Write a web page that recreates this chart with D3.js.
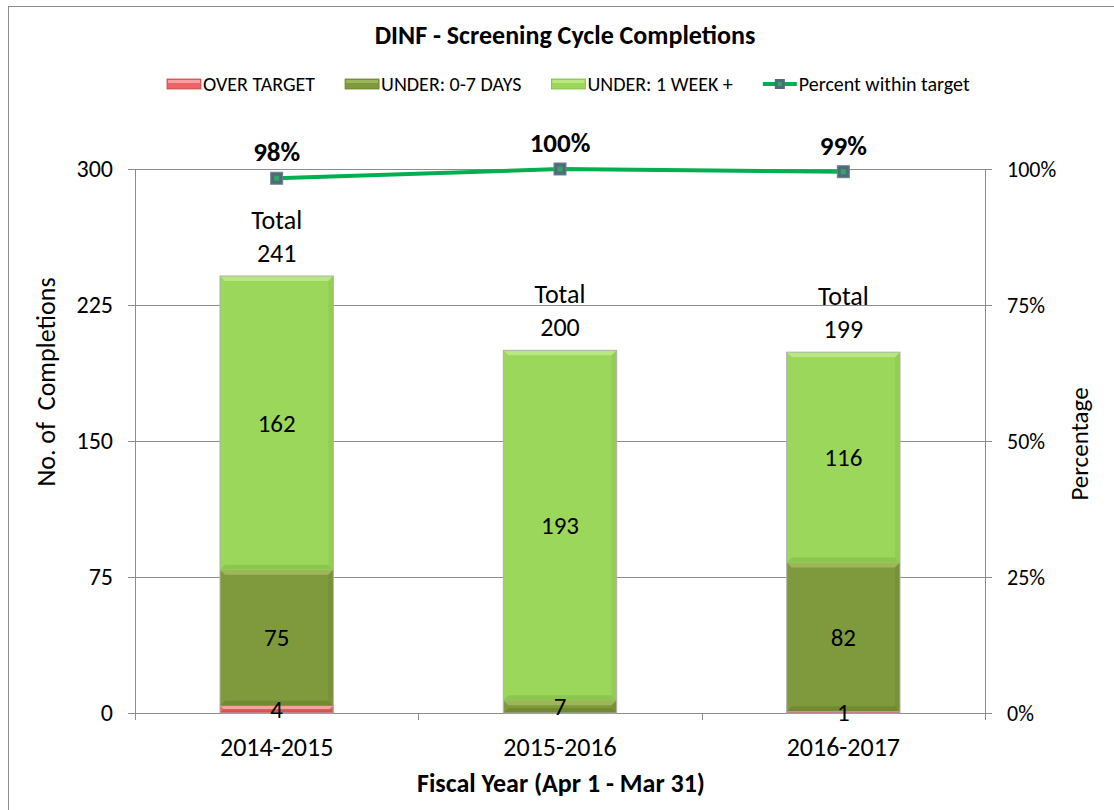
<!DOCTYPE html>
<html>
<head>
<meta charset="utf-8">
<script src="https://cdn.jsdelivr.net/npm/d3@7"></script>
<style>
  body { margin: 0; background: #fff; }
  text { font-family: Carlito, "Liberation Sans", Arial, sans-serif; fill: #000; }
</style>
</head>
<body>
<script>
// ---------------- DATA ----------------
var years = ['2014-2015', '2015-2016', '2016-2017']
var overTarget = [4, 0, 1]
var under07 = [75, 7, 82]
var under1wk = [162, 193, 116]
var percentWithin = [0.983, 1.0, 0.995]
var percentLabels = ['98%', '100%', '99%']
var leftTicks = [0, 75, 150, 225, 300]
var rightTicks = [0, 0.25, 0.5, 0.75, 1]
var seriesNames = ['OVER TARGET', 'UNDER: 0-7 DAYS', 'UNDER: 1 WEEK +', 'Percent within target']

// ---------------- SVG ----------------
var width = 1114, height = 810
var svg = d3.select('body').append('svg')
  .attr('width', width).attr('height', height)

svg.append('rect')
  .attr('x', 8.5).attr('y', 6.5)
  .attr('width', 1200).attr('height', 1000)
  .attr('fill', 'none').attr('stroke', '#8c8c8c')

var plot = { left: 135, right: 985, top: 169, bottom: 713 }

var x = d3.scaleBand().domain(years)
  .range([plot.left, plot.right])
  .paddingInner(0.6).paddingOuter(0.3)
var y = d3.scaleLinear().domain([0, 300]).range([plot.bottom, plot.top])
var yP = d3.scaleLinear().domain([0, 1]).range([plot.bottom, plot.top])

var colors = {
  over: { fill: '#ee6464', light: '#f7a0a0', dark: '#c84848' },
  u07: { fill: '#7f9a3d', light: '#9db65a', dark: '#67802c' },
  u1w: { fill: '#9bd75a', light: '#b9e882', dark: '#80bc44' }
}

// ---------------- GRID + AXES ----------------
svg.append('g')
  .selectAll('line').data(leftTicks).enter().append('line')
  .attr('x1', plot.left - 7).attr('x2', plot.right + 7)
  .attr('y1', function(d){ return Math.round(y(d)) + 0.5 })
  .attr('y2', function(d){ return Math.round(y(d)) + 0.5 })
  .attr('stroke', '#8c8c8c').attr('stroke-width', 1)

svg.append('line')
  .attr('x1', plot.left + 0.5).attr('x2', plot.left + 0.5)
  .attr('y1', plot.top).attr('y2', plot.bottom + 7)
  .attr('stroke', '#8c8c8c')
svg.append('line')
  .attr('x1', plot.right + 0.5).attr('x2', plot.right + 0.5)
  .attr('y1', plot.top).attr('y2', plot.bottom + 7)
  .attr('stroke', '#8c8c8c')

// category boundary ticks
var step = x.step()
svg.append('g').selectAll('line').data(d3.range(years.length + 1)).enter().append('line')
  .attr('x1', function(i){ return Math.round(plot.left + i * step) + 0.5 })
  .attr('x2', function(i){ return Math.round(plot.left + i * step) + 0.5 })
  .attr('y1', plot.bottom).attr('y2', plot.bottom + 7)
  .attr('stroke', '#8c8c8c')

svg.append('g').selectAll('text').data(leftTicks).enter().append('text')
  .attr('x', 113).attr('y', function(d){ return y(d) })
  .attr('dy', '0.35em').attr('text-anchor', 'end')
  .style('font-size', '24px')
  .text(function(d){ return d })

svg.append('g').selectAll('text').data(rightTicks).enter().append('text')
  .attr('x', 1007).attr('y', function(d){ return yP(d) })
  .attr('dy', '0.35em')
  .style('font-size', '22px')
  .text(d3.format('.0%'))

svg.append('g').selectAll('text').data(years).enter().append('text')
  .attr('x', function(d){ return x(d) + x.bandwidth() / 2 })
  .attr('y', 756).attr('text-anchor', 'middle')
  .style('font-size', '26px')
  .text(function(d){ return d })

// axis titles
svg.append('text')
  .attr('transform', 'translate(55,' + 382 + ') rotate(-90)')
  .attr('text-anchor', 'middle').style('font-size', '26px')
  .attr('xml:space', 'preserve')
  .text('No. of  Completions')
svg.append('text')
  .attr('transform', 'translate(1088,' + 444 + ') rotate(-90)')
  .attr('text-anchor', 'middle').style('font-size', '25px')
  .text('Percentage')
svg.append('text')
  .attr('x', 561).attr('y', 792).attr('text-anchor', 'middle')
  .style('font-size', '26px').style('font-weight', 'bold')
  .text('Fiscal Year (Apr 1 - Mar 31)')

// title
svg.append('text')
  .attr('x', 565).attr('y', 44).attr('text-anchor', 'middle')
  .style('font-size', '26px').style('font-weight', 'bold')
  .text('DINF - Screening Cycle Completions')

// ---------------- BARS ----------------
var stacked = years.map(function(yr, i){
  var a = overTarget[i], b = under07[i], c = under1wk[i]
  return { year: yr, total: a + b + c, segs: [
    { key: 'over', v: a, y0: 0, y1: a },
    { key: 'u07', v: b, y0: a, y1: a + b },
    { key: 'u1w', v: c, y0: a + b, y1: a + b + c }
  ]}
})

var bw = x.bandwidth()
var barG = svg.append('g').selectAll('g').data(stacked).enter().append('g')
  .attr('transform', function(d){ return 'translate(' + x(d.year) + ',0)' })

barG.each(function(d){
  var g = d3.select(this)
  d.segs.forEach(function(s){
    if (s.v <= 0) return
    var top = y(s.y1), bot = y(s.y0), h = bot - top
    var c = colors[s.key]
    var bev = Math.min(5, h / 2)
    g.append('rect').attr('x', 0).attr('y', top).attr('width', bw).attr('height', h)
      .attr('fill', c.fill)
    // top highlight bevel
    g.append('polygon')
      .attr('points', [[0, top], [bw, top], [bw - bev, top + bev], [bev, top + bev]].join(' '))
      .attr('fill', c.light)
    // bottom shade bevel
    g.append('polygon')
      .attr('points', [[0, bot], [bw, bot], [bw - bev, bot - bev], [bev, bot - bev]].join(' '))
      .attr('fill', c.dark).attr('opacity', 0.6)
    // side shades
    g.append('polygon')
      .attr('points', [[bw, top], [bw, bot], [bw - bev, bot - bev], [bw - bev, top + bev]].join(' '))
      .attr('fill', c.dark).attr('opacity', 0.35)
  })
  g.append('rect').attr('x', 0).attr('y', y(d.total)).attr('width', bw)
    .attr('height', y(0) - y(d.total))
    .attr('fill', 'none').attr('stroke', '#b0b0b0').attr('stroke-width', 1)
})

// segment labels
barG.each(function(d){
  var g = d3.select(this)
  d.segs.forEach(function(s){
    if (s.v <= 0) return
    g.append('text')
      .attr('x', bw / 2).attr('y', y((s.y0 + s.y1) / 2))
      .attr('dy', '0.35em').attr('text-anchor', 'middle')
      .style('font-size', '25px')
      .text(s.v)
  })
})

// totals
barG.append('text')
  .attr('x', bw / 2).attr('y', function(d){ return y(d.total) - 47 })
  .attr('text-anchor', 'middle').style('font-size', '26px')
  .text('Total')
barG.append('text')
  .attr('x', bw / 2).attr('y', function(d){ return y(d.total) - 14 })
  .attr('text-anchor', 'middle').style('font-size', '26px')
  .text(function(d){ return d.total })

// ---------------- PERCENT LINE ----------------
var pts = years.map(function(yr, i){ return { year: yr, p: percentWithin[i], label: percentLabels[i] } })
var line = d3.line()
  .x(function(d){ return x(d.year) + bw / 2 })
  .y(function(d){ return yP(d.p) })

svg.append('path').datum(pts)
  .attr('d', line).attr('fill', 'none')
  .attr('stroke', '#00b050').attr('stroke-width', 4)

var mk = svg.append('g').selectAll('g').data(pts).enter().append('g')
  .attr('transform', function(d){ return 'translate(' + (x(d.year) + bw / 2) + ',' + yP(d.p) + ')' })
mk.append('rect').attr('x', -6).attr('y', -6).attr('width', 12).attr('height', 12)
  .attr('fill', '#4f6b78').attr('stroke', '#6f8490').attr('stroke-width', 1)
mk.append('rect').attr('x', -2.5).attr('y', -2.5).attr('width', 5).attr('height', 5)
  .attr('fill', '#2fa76a')

svg.append('g').selectAll('text').data(pts).enter().append('text')
  .attr('x', function(d){ return x(d.year) + bw / 2 })
  .attr('y', function(d){ return yP(d.p) - 17 })
  .attr('text-anchor', 'middle')
  .style('font-size', '27px').style('font-weight', 'bold')
  .text(function(d){ return d.label })

// ---------------- LEGEND ----------------
var legendKeys = ['over', 'u07', 'u1w', 'line']
var legend = svg.append('g').attr('transform', 'translate(167,84)')
var lx = 0
seriesNames.forEach(function(name, i){
  var item = legend.append('g').attr('transform', 'translate(' + lx + ',0)')
  var k = legendKeys[i]
  if (k === 'line') {
    item.append('line').attr('x1', 0).attr('x2', 34).attr('y1', 0).attr('y2', 0)
      .attr('stroke', '#00b050').attr('stroke-width', 4)
    item.append('rect').attr('x', 12).attr('y', -5).attr('width', 10).attr('height', 10)
      .attr('fill', '#4f6b78')
    item.append('rect').attr('x', 15).attr('y', -2).attr('width', 4).attr('height', 4)
      .attr('fill', '#2fa76a')
  } else {
    var c = colors[k]
    item.append('rect').attr('x', 0).attr('y', -5).attr('width', 34).attr('height', 10)
      .attr('fill', c.fill).attr('stroke', c.dark).attr('stroke-width', 0.8)
    item.append('rect').attr('x', 1).attr('y', -4).attr('width', 32).attr('height', 3)
      .attr('fill', c.light)
  }
  var t = item.append('text').attr('x', 36).attr('y', 0).attr('dy', '0.35em')
    .style('font-size', '20px').text(name)
  lx += 36 + t.node().getComputedTextLength() + 30
})
</script>
</body>
</html>
